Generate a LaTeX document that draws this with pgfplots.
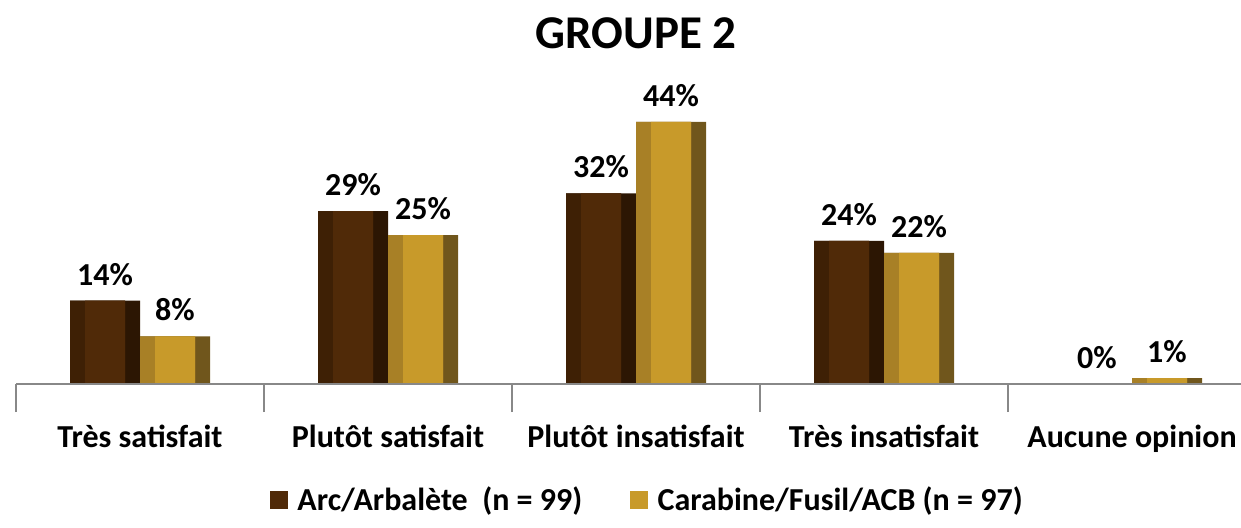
\documentclass[border=0pt]{standalone}
\usepackage{fontspec}
\setmainfont{Carlito}
\usepackage{pgfplots}
\pgfplotsset{compat=1.18}
\usepackage{pgfplotstable}

\definecolor{brface}{RGB}{80,42,8}
\definecolor{brleft}{RGB}{62,32,5}
\definecolor{brright}{RGB}{44,22,3}
\definecolor{gdface}{RGB}{200,154,42}
\definecolor{gdleft}{RGB}{168,128,38}
\definecolor{gdright}{RGB}{112,86,28}
\definecolor{axisgray}{RGB}{136,136,136}

% idx, Arc/Arbalete, Carabine/Fusil/ACB (percent)
\pgfplotstableread{
idx arc carab
0   14  8
1   29  25
2   32  44
3   24  22
4   0   1
}\groupdata

\begin{document}
\begin{tikzpicture}
\useasboundingbox (0,0) rectangle (620.5pt,263.5pt);
\node[font=\fontsize{23.5}{28}\selectfont\bfseries] at (318pt,247pt) {GROUPE 2};
\begin{axis}[
  at={(8pt,71.5pt)}, anchor=south west,
  scale only axis,
  width=620pt, height=149pt,
  xmin=-0.5, xmax=4.5, ymin=0, ymax=50,
  axis x line*=bottom, axis y line=none,
  axis line style={axisgray, line width=1pt},
  axis on top,
  xtick={0,1,2,3,4},
  xticklabels={Très satisfait, Plutôt satisfait, Plutôt insatisfait, Très insatisfait, Aucune opinion},
  major tick length=0pt,
  extra x ticks={-0.5,0.5,1.5,2.5,3.5,4.5},
  extra x tick labels={},
  extra x tick style={major tick length=14pt, tick style={axisgray, line width=1pt}, tick align=outside},
  xticklabel style={font=\fontsize{16}{19}\selectfont\bfseries, yshift=-17pt},
  /pgf/number format/assume math mode=true,
  nodes near coords={\pgfmathprintnumber{\pgfplotspointmeta}\%},
  every node near coord/.append style={font=\fontsize{16}{19}\selectfont\bfseries, anchor=south, yshift=4pt, text=black},
  legend style={at={(0.51,-0.389)}, anchor=center, legend columns=2, draw=none,
    font=\fontsize{16}{19}\selectfont\bfseries,
    /tikz/every even column/.append style={column sep=22pt}},
  legend image code/.code={\fill[#1] (0pt,-4.5pt) rectangle (9pt,4.5pt);},
]
% Arc/Arbalete: bevelled bar in three layers
\addplot[ybar, bar width=35pt, bar shift=-17.5pt, fill=brright, draw=none, nodes near coords=, forget plot]
  table[x=idx, y=arc] {\groupdata};
\addplot[ybar, bar width=27.5pt, bar shift=-21.25pt, fill=brleft, draw=none, nodes near coords=, forget plot]
  table[x=idx, y=arc] {\groupdata};
\addplot[ybar, bar width=20pt, bar shift=-17.5pt, fill=brface, draw=none,
  every node near coord/.append style={xshift=-17.5pt}]
  table[x=idx, y=arc] {\groupdata};
\addlegendentry{\,Arc/Arbalète\ \ (n = 99)}
% Carabine/Fusil/ACB
\addplot[ybar, bar width=35pt, bar shift=17.5pt, fill=gdright, draw=none, nodes near coords=, forget plot]
  table[x=idx, y=carab] {\groupdata};
\addplot[ybar, bar width=27.5pt, bar shift=13.75pt, fill=gdleft, draw=none, nodes near coords=, forget plot]
  table[x=idx, y=carab] {\groupdata};
\addplot[ybar, bar width=20pt, bar shift=17.5pt, fill=gdface, draw=none,
  every node near coord/.append style={xshift=17.5pt}]
  table[x=idx, y=carab] {\groupdata};
\addlegendentry{\,Carabine/Fusil/ACB (n = 97)}
\end{axis}
\end{tikzpicture}
\end{document}
